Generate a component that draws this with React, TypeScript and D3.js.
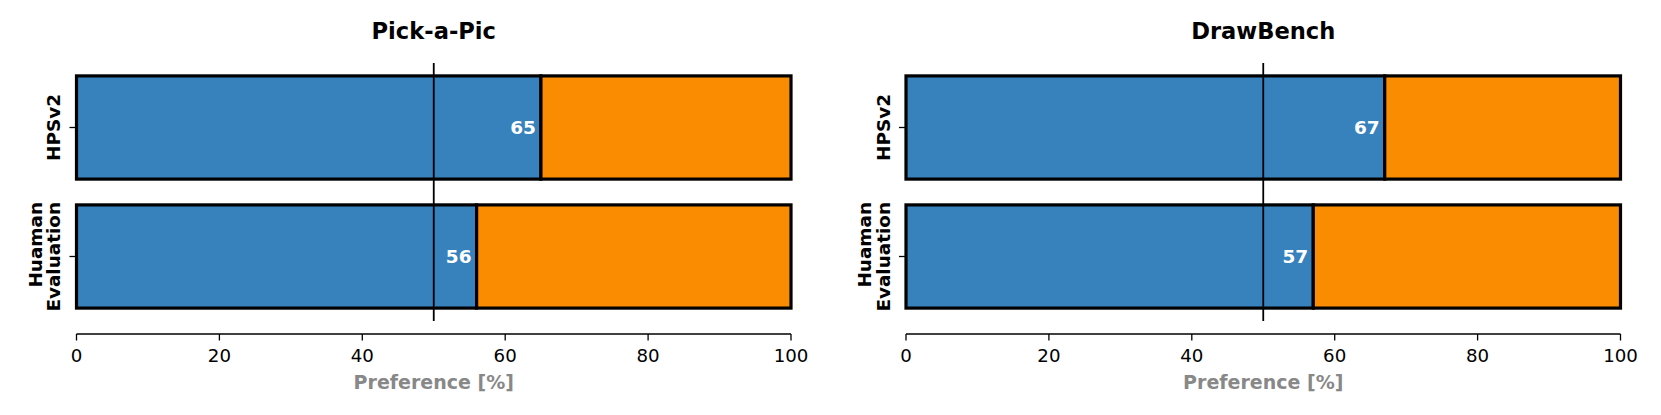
import React from 'react';
import * as d3 from 'd3';

// chart data
const datasets = ['Pick-a-Pic', 'DrawBench'];
const categories = ['HPSv2', 'Huaman\nEvaluation'];
const pickAPicValues = [65, 56];
const drawBenchValues = [67, 57];
const xTicks = [0, 20, 40, 60, 80, 100];

const seriesByDataset = [pickAPicValues, drawBenchValues];

const WIDTH = 1661;
const HEIGHT = 415;
const FONT = 'DejaVu Sans, sans-serif';
const BLUE = '#3781bd';
const ORANGE = '#f98c00';

const panelLefts = [76.5, 906];
const panelWidth = 714.5;
const plotTop = 63;
const plotBottom = 321;
const spineY = 334;

const Panel = ({ title, values, left }: { title: string; values: number[]; left: number }) => {
  const x = d3.scaleLinear().domain([0, 100]).range([left, left + panelWidth]);
  const y = d3.scaleLinear().domain([-0.5, 1.5]).range([plotTop, plotBottom]);
  const barH = y(0.4) - y(-0.4);

  return (
    <g>
      <text
        x={x(50)}
        y={38.5}
        textAnchor="middle"
        fontFamily={FONT}
        fontWeight="bold"
        fontSize={22.6}
      >
        {title}
      </text>

      {values.map((v, i) => (
        <g key={i}>
          <rect
            x={x(0)}
            y={y(i) - barH / 2}
            width={x(v) - x(0)}
            height={barH}
            fill={BLUE}
            stroke="#000"
            strokeWidth={3.2}
          />
          <rect
            x={x(v)}
            y={y(i) - barH / 2}
            width={x(100) - x(v)}
            height={barH}
            fill={ORANGE}
            stroke="#000"
            strokeWidth={3.2}
          />
        </g>
      ))}

      <line x1={x(50)} x2={x(50)} y1={plotTop} y2={plotBottom} stroke="#000" strokeWidth={1.8} />

      {values.map((v, i) => (
        <text
          key={i}
          x={x(v) - 5}
          y={y(i)}
          dy="0.36em"
          textAnchor="end"
          fill="#fff"
          fontFamily={FONT}
          fontWeight="bold"
          fontSize={18.5}
        >
          {v}
        </text>
      ))}

      {/* y ticks + rotated labels */}
      {categories.map((c, i) => {
        const lines = c.split('\n');
        const lineH = 18.5;
        const half = lines.length > 1 ? 109 / 2 : 0;
        return (
          <g key={c}>
            <line x1={x(0) - 7} x2={x(0)} y1={y(i)} y2={y(i)} stroke="#000" strokeWidth={1.3} />
            <g transform={`translate(${x(0) - 16.5},${y(i)}) rotate(-90)`}>
              {lines.map((ln, j) => (
                <text
                  key={j}
                  x={lines.length > 1 ? half : 0}
                  y={-(lines.length - 1 - j) * lineH}
                  textAnchor={lines.length > 1 ? 'end' : 'middle'}
                  fontFamily={FONT}
                  fontWeight="bold"
                  fontSize={18.4}
                >
                  {ln}
                </text>
              ))}
            </g>
          </g>
        );
      })}

      {/* bottom axis */}
      <line x1={x(0)} x2={x(100)} y1={spineY} y2={spineY} stroke="#000" strokeWidth={1.3} />
      {xTicks.map((t) => (
        <g key={t}>
          <line x1={x(t)} x2={x(t)} y1={spineY} y2={spineY + 6.5} stroke="#000" strokeWidth={1.3} />
          <text x={x(t)} y={361.5} textAnchor="middle" fontFamily={FONT} fontSize={18.2}>
            {t}
          </text>
        </g>
      ))}
      <text
        x={x(50)}
        y={388.5}
        textAnchor="middle"
        fontFamily={FONT}
        fontWeight="bold"
        fontSize={19}
        fill="#888"
      >
        Preference [%]
      </text>
    </g>
  );
};

export default function App() {
  return (
    <svg
      width={WIDTH}
      height={HEIGHT}
      style={{ position: 'absolute', left: 0, top: 0, background: '#fff' }}
    >
      {datasets.map((d, k) => (
        <Panel key={d} title={d} values={seriesByDataset[k]} left={panelLefts[k]} />
      ))}
    </svg>
  );
}
